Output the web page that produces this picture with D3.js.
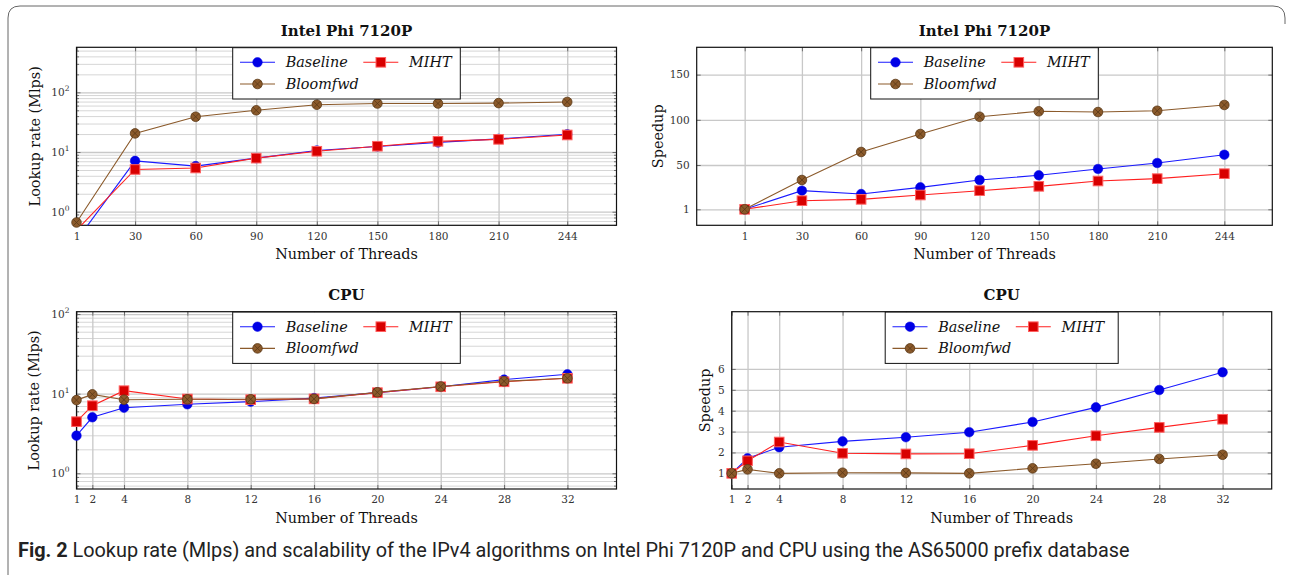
<!DOCTYPE html>
<html><head><meta charset="utf-8">
<script src="https://cdn.jsdelivr.net/npm/d3@7"></script>
<style>body{margin:0;background:#fff;} svg{display:block;}</style>
</head><body>
<svg id="chart" width="1292" height="575"></svg>
<script>
// ---------------- data ----------------
const seriesNames = ["Baseline", "MIHT", "Bloomfwd"];
const phiThreads = [1, 30, 60, 90, 120, 150, 180, 210, 244];
const phiRateBaseline = [0.33, 7.1, 5.8, 7.9, 10.6, 12.4, 14.5, 16.6, 19.8];
const phiRateMIHT     = [0.49, 5.1, 5.4, 7.9, 10.3, 12.5, 15.1, 16.3, 19.3];
const phiRateBloomfwd = [0.66, 20.5, 39, 50, 62, 65, 65, 66, 69];
const phiSpeedBaseline = [1, 21.6, 17.9, 25.3, 33.4, 38.6, 45.6, 52.2, 61.4];
const phiSpeedMIHT     = [1, 10.5, 12, 16.8, 21.6, 26.4, 32.3, 34.9, 40.4];
const phiSpeedBloomfwd = [1, 33.4, 64.4, 84.3, 103.4, 109.4, 108.6, 110, 116.4];
const cpuThreads = [1, 2, 4, 8, 12, 16, 20, 24, 28, 32];
const cpuRateBaseline = [2.97, 5.05, 6.66, 7.35, 7.94, 8.8, 10.3, 12.2, 15.0, 17.5];
const cpuRateMIHT     = [4.45, 7.06, 10.9, 8.57, 8.4, 8.6, 10.3, 12.2, 14.1, 15.6];
const cpuRateBloomfwd = [8.3, 9.8, 8.4, 8.5, 8.5, 8.6, 10.4, 12.3, 14.3, 15.6];
const cpuSpeedBaseline = [1, 1.72, 2.25, 2.53, 2.73, 2.97, 3.46, 4.16, 4.99, 5.84];
const cpuSpeedMIHT     = [1, 1.6, 2.5, 1.96, 1.93, 1.94, 2.34, 2.8, 3.2, 3.59];
const cpuSpeedBloomfwd = [1, 1.19, 1.0, 1.03, 1.02, 1.0, 1.24, 1.46, 1.69, 1.89];
const phiSpeedTicks = [1, 50, 100, 150];
const cpuSpeedTicks = [1, 2, 3, 4, 5, 6];
const logTickExponents = [0, 1, 2];
const panelTitles = ["Intel Phi 7120P", "Intel Phi 7120P", "CPU", "CPU"];
const xAxisLabel = "Number of Threads";
const yAxisLabels = ["Lookup rate (Mlps)", "Speedup"];
const captionBold = "Fig. 2";
const captionText = " Lookup rate (Mlps) and scalability of the IPv4 algorithms on Intel Phi 7120P and CPU using the AS65000 prefix database";

// ---------------- styles ----------------
const SERIF = "'DejaVu Serif', serif";
const colors = {
  Baseline: { line: "#1a1aff", fill: "#0000e6", stroke: "#0000e6" },
  MIHT: { line: "#ff2020", fill: "#d80000", stroke: "#ff6060" },
  Bloomfwd: { line: "#8b5a2b", fill: "#8b5a2b", stroke: "#5a3817" }
};

const svg = d3.select("#chart");

// outer frame
svg.append("path")
  .attr("d", "M8,575 L8,18 Q8,6 20,6 L1273,6 Q1285,6 1285,18 L1285,24")
  .attr("fill", "none").attr("stroke", "#666").attr("stroke-width", 1);

let clipId = 0;

function drawMarker(g, name, cx, cy) {
  const c = colors[name];
  if (name === "MIHT") {
    const s = 9.6;
    g.append("rect").attr("x", cx - s / 2).attr("y", cy - s / 2).attr("width", s).attr("height", s)
      .attr("fill", c.fill).attr("stroke", c.stroke).attr("stroke-width", 1);
  } else {
    g.append("circle").attr("cx", cx).attr("cy", cy).attr("r", 4.8)
      .attr("fill", c.fill).attr("stroke", c.stroke).attr("stroke-width", name === "Bloomfwd" ? 0.8 : 0.5);
    if (name === "Bloomfwd") {
      const r = 3.3;
      g.append("path").attr("d", `M${cx - r},${cy - r}L${cx + r},${cy + r}M${cx - r},${cy + r}L${cx + r},${cy - r}`)
        .attr("stroke", c.stroke).attr("stroke-width", 0.8).attr("fill", "none");
    }
  }
}

function panel(cfg) {
  const { left, right, top, bottom, xDomain, yDomain, log, xTicks, yTicks, threads, series, title, yLabel, yLabelX, legendW } = cfg;
  const x = d3.scaleLinear().domain(xDomain).range([left, right]);
  const y = (log ? d3.scaleLog() : d3.scaleLinear()).domain(yDomain).range([bottom, top]);
  const W = right - left, H = bottom - top;
  const g = svg.append("g");

  // horizontal grid
  let minorVals = [];
  if (log) {
    const lo = Math.floor(Math.log10(yDomain[0])), hi = Math.ceil(Math.log10(yDomain[1]));
    for (let d = lo; d <= hi; d++) for (let k = 2; k <= 9; k++) {
      const v = k * Math.pow(10, d);
      if (v >= yDomain[0] && v <= yDomain[1]) minorVals.push(v);
    }
    g.append("g").attr("transform", `translate(${left},0)`)
      .call(d3.axisLeft(y).tickValues(minorVals).tickSize(-W).tickFormat(""))
      .call(a => a.select(".domain").remove())
      .call(a => a.selectAll("line").attr("stroke", "#d6d6d6").attr("stroke-width", 1));
  }
  g.append("g").attr("transform", `translate(${left},0)`)
    .call(d3.axisLeft(y).tickValues(yTicks).tickSize(-W).tickFormat(""))
    .call(a => a.select(".domain").remove())
    .call(a => a.selectAll("line").attr("stroke", "#c8c8c8").attr("stroke-width", 1.3));
  // vertical grid
  g.append("g").attr("transform", `translate(0,${bottom})`)
    .call(d3.axisBottom(x).tickValues(xTicks).tickSize(-H).tickFormat(""))
    .call(a => a.select(".domain").remove())
    .call(a => a.selectAll("line").attr("stroke", "#c8c8c8").attr("stroke-width", 1.3));

  // inner tick marks on all sides
  const tickStyle = a => { a.select(".domain").remove(); a.selectAll("line").attr("stroke", "#555").attr("stroke-width", 0.8); };
  g.append("g").attr("transform", `translate(0,${bottom})`).call(d3.axisBottom(x).tickValues(xTicks).tickSize(-4).tickFormat("")).call(tickStyle);
  g.append("g").attr("transform", `translate(0,${top})`).call(d3.axisTop(x).tickValues(xTicks).tickSize(-4).tickFormat("")).call(tickStyle);
  g.append("g").attr("transform", `translate(${left},0)`).call(d3.axisLeft(y).tickValues(yTicks).tickSize(-4).tickFormat("")).call(tickStyle);
  g.append("g").attr("transform", `translate(${right},0)`).call(d3.axisRight(y).tickValues(yTicks).tickSize(-4).tickFormat("")).call(tickStyle);
  if (log) {
    g.append("g").attr("transform", `translate(${left},0)`).call(d3.axisLeft(y).tickValues(minorVals).tickSize(-2.5).tickFormat("")).call(tickStyle);
    g.append("g").attr("transform", `translate(${right},0)`).call(d3.axisRight(y).tickValues(minorVals).tickSize(-2.5).tickFormat("")).call(tickStyle);
  }

  // tick labels
  g.append("g").attr("transform", `translate(0,${bottom})`)
    .call(d3.axisBottom(x).tickValues(xTicks).tickSize(0).tickPadding(7).tickFormat(d3.format("d")))
    .call(a => a.select(".domain").remove())
    .call(a => a.selectAll("text").attr("font-family", SERIF).attr("font-size", 10.5).attr("fill", "#333"));
  const yl = g.append("g").attr("transform", `translate(${left},0)`)
    .call(d3.axisLeft(y).tickValues(yTicks).tickSize(0).tickPadding(7).tickFormat(log ? (() => "") : d3.format("d")))
    .call(a => a.select(".domain").remove());
  yl.selectAll("text").attr("font-family", SERIF).attr("font-size", 10.5).attr("fill", "#333");
  if (log) {
    yl.selectAll("text").each(function (d) {
      const t = d3.select(this);
      t.append("tspan").text("10");
      t.append("tspan").attr("font-size", 7.5).attr("dy", -5).text(String(Math.round(Math.log10(d))));
    });
  }

  // axis box
  g.append("rect").attr("x", left).attr("y", top).attr("width", W).attr("height", H)
    .attr("fill", "none").attr("stroke", "#111").attr("stroke-width", 1.2);

  // series
  const cid = "clip" + (clipId++);
  svg.append("clipPath").attr("id", cid).append("rect").attr("x", left).attr("y", top).attr("width", W).attr("height", H);
  series.forEach(s => {
    const pts = threads.map((t, i) => [x(t), y(s.values[i])]);
    g.append("path").attr("d", d3.line()(pts)).attr("fill", "none")
      .attr("stroke", colors[s.name].line).attr("stroke-width", 1.1).attr("clip-path", `url(#${cid})`);
    s.values.forEach((v, i) => {
      if (v >= yDomain[0] && v <= yDomain[1]) drawMarker(g, s.name, x(threads[i]), y(v));
    });
  });

  // legend
  const cx = (left + right) / 2, lw = legendW, lh = 51.3, lx = cx - lw / 2, ly = top + 0.4;
  const lg = g.append("g");
  lg.append("rect").attr("x", lx).attr("y", ly).attr("width", lw).attr("height", lh)
    .attr("fill", "#fff").attr("stroke", "#111").attr("stroke-width", 1);
  const entries = [
    { name: seriesNames[0], x0: lx + 7.3, y0: ly + 14.6 },
    { name: seriesNames[1], x0: lx + 130.6, y0: ly + 14.6 },
    { name: seriesNames[2], x0: lx + 7.3, y0: ly + 36.3 }
  ];
  entries.forEach(e => {
    lg.append("line").attr("x1", e.x0).attr("x2", e.x0 + 35).attr("y1", e.y0).attr("y2", e.y0)
      .attr("stroke", colors[e.name].line).attr("stroke-width", 1.1);
    drawMarker(lg, e.name, e.x0 + 17.5, e.y0);
    lg.append("text").attr("x", e.x0 + 45.7).attr("y", e.y0 + 5).attr("font-family", SERIF)
      .attr("font-style", "italic").attr("font-size", 14.4).attr("fill", "#111").text(e.name);
  });

  // titles and labels
  g.append("text").attr("x", cx).attr("y", top - 11.5).attr("text-anchor", "middle")
    .attr("font-family", SERIF).attr("font-weight", "bold").attr("font-size", 15).attr("fill", "#111").text(title);
  g.append("text").attr("x", cx).attr("y", bottom + 34).attr("text-anchor", "middle")
    .attr("font-family", SERIF).attr("font-size", 14.4).attr("fill", "#111").text(xAxisLabel);
  g.append("text").attr("transform", `translate(${yLabelX},${(top + bottom) / 2}) rotate(-90)`)
    .attr("text-anchor", "middle").attr("dy", "0.35em")
    .attr("font-family", SERIF).attr("font-size", 14.4).attr("fill", "#111").text(yLabel);
}

const mk = (a, b, c) => [
  { name: seriesNames[0], values: a },
  { name: seriesNames[1], values: b },
  { name: seriesNames[2], values: c }
];
const logTicks = logTickExponents.map(e => Math.pow(10, e));

panel({ left: 76.5, right: 616.5, top: 47.3, bottom: 225.3, xDomain: [1, 268.4], yDomain: [0.592, 568], log: true,
  xTicks: phiThreads, yTicks: logTicks, threads: phiThreads, series: mk(phiRateBaseline, phiRateMIHT, phiRateBloomfwd),
  title: panelTitles[0], yLabel: yAxisLabels[0], yLabelX: 35, legendW: 227.6 });
panel({ left: 696.7, right: 1272.3, top: 47.3, bottom: 225.3, xDomain: [-23.3, 268.3], yDomain: [-16.7, 180.2], log: false,
  xTicks: phiThreads, yTicks: phiSpeedTicks, threads: phiThreads, series: mk(phiSpeedBaseline, phiSpeedMIHT, phiSpeedBloomfwd),
  title: panelTitles[1], yLabel: yAxisLabels[1], yLabelX: 658, legendW: 227.6 });
panel({ left: 76.5, right: 616.5, top: 311.7, bottom: 489, xDomain: [1, 35.1], yDomain: [0.635, 107], log: true,
  xTicks: cpuThreads, yTicks: logTicks, threads: cpuThreads, series: mk(cpuRateBaseline, cpuRateMIHT, cpuRateBloomfwd),
  title: panelTitles[2], yLabel: yAxisLabels[0], yLabelX: 34, legendW: 227.6 });
panel({ left: 731.7, right: 1271.7, top: 311.7, bottom: 489, xDomain: [1, 35.1], yDomain: [0.25, 8.74], log: false,
  xTicks: cpuThreads, yTicks: cpuSpeedTicks, threads: cpuThreads, series: mk(cpuSpeedBaseline, cpuSpeedMIHT, cpuSpeedBloomfwd),
  title: panelTitles[3], yLabel: yAxisLabels[1], yLabelX: 705, legendW: 233 });

// caption, sized to span the same width as in the figure
const cap = svg.append("text").attr("x", 18).attr("y", 557).attr("font-family", "Roboto, 'Open Sans', sans-serif")
  .attr("font-size", 16.5).attr("fill", "#222");
cap.append("tspan").attr("font-weight", "bold").text(captionBold);
cap.append("tspan").text(captionText);
const capW = cap.node().getComputedTextLength();
if (capW > 0) cap.attr("font-size", Math.min(21, 16.5 * 1112 / capW));
</script>
</body></html>
